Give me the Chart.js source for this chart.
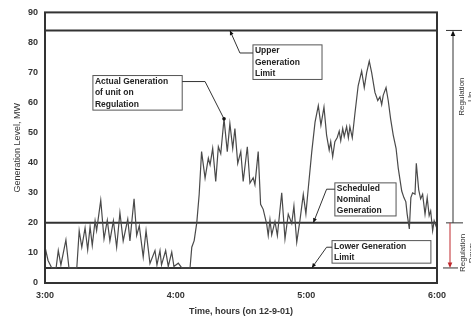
<!DOCTYPE html>
<html>
<head>
<meta charset="utf-8">
<script src="https://cdn.jsdelivr.net/npm/chart.js@4"></script>
<style>
  html, body { margin: 0; padding: 0; background: #fff; }
  #wrap { width: 471px; height: 318px; }
</style>
</head>
<body>
<div id="wrap"><canvas id="genChart" width="471" height="318"></canvas></div>
<script>
// minutes after 3:00
var minutes = [0, 1.4, 3.1, 5.1, 6.1, 7.3, 9.6, 11.0, 14.6, 15.7, 16.9, 18.4, 19.6, 20.7, 21.7, 23.0, 23.7,
  25.6, 27.1, 28.6, 29.8, 31.4, 32.9, 34.4, 35.9, 38.0, 39.0, 40.9, 42.1, 43.3, 45.1, 46.4, 48.2,
  50.5, 51.4, 52.8, 53.5, 55.4, 56.6, 58.2, 59.2, 61.2, 62.8, 66.6, 67.4, 68.5, 69.7, 70.8, 71.9,
  73.5, 75.0, 75.8, 77.0, 78.4, 79.6, 80.7, 82.2, 83.7, 84.9, 86.2, 87.2, 88.5, 89.9, 91.0, 92.9,
  94.1, 95.6, 96.4, 97.9, 99.0, 100.2, 101.8, 102.5, 103.3, 104.1, 105.6, 106.7, 108.7, 110.2,
  111.7, 113.3, 114.3, 115.6, 117.1, 118.6, 119.8, 120.9, 122.5, 124.0, 125.5, 126.7, 128.1, 129.3,
  130.5, 131.2, 132.1, 133.1, 134.2, 135.1, 135.8, 136.7, 137.4, 138.5, 139.3, 140.0, 141.1, 142.3,
  143.8, 145.4, 146.6, 147.7, 148.9, 150.0, 151.5, 152.8, 153.8, 154.6, 155.3, 156.6, 157.6, 158.7,
  159.9, 161.2, 162.2, 163.8, 164.8, 165.7, 166.3, 167.3, 168.0, 168.8, 169.9, 170.5, 171.6, 172.5,
  173.4, 174.5, 175.5, 176.4, 177.1, 178.0, 178.7, 179.5, 180];
var actualMW = [12, 7.5, 5, 5, 10.8, 6, 14.3, 5, 5, 17.4, 11.9, 18.3, 11, 18.7, 12.5, 20.7, 17.4,
  27.5, 14.7, 20.9, 14, 20.7, 11.9, 23.4, 14, 21.2, 14, 28, 15.8, 19, 8.6, 17.4, 6.5,
  10.8, 6, 10.8, 6, 10.8, 5.5, 10.3, 5.5, 6.6, 5, 5, 11.9, 14.1, 20.1, 29.5, 43.7,
  34.9, 41.5, 39.3, 44.8, 33.8, 45.3, 43, 54.6, 43.7, 53, 44.8, 51.4, 39.8, 43.7, 33.8, 45.3,
  33.2, 35, 32.7, 43.7, 26.2, 24.5, 19.6, 15.8, 21, 16, 20.5, 15.8, 30, 14.7,
  22.9, 19.8, 25.6, 13.6, 21, 29.5, 23, 31.6, 43.7, 53.5, 59, 52.5, 58.5, 49.2,
  44.2, 47, 42, 47, 48.4, 50.5, 47.3, 51.4, 48.7, 52, 48.3, 52, 48.3, 56.3,
  65.6, 70.5, 65, 70, 73.8, 70, 63.4, 60.7, 61.9, 59.3, 62.4, 65, 60.7, 54.6,
  49.2, 44.8, 38.2, 30.6, 28.4, 27, 22.9, 18, 28.4, 30, 29.5, 39.8, 31, 28,
  29.5, 22.9, 28.4, 22.4, 24, 17.4, 20.7, 19, 18];

var upperLimit = 84;
var scheduled = 20;
var lowerLimit = 5;
var xTicks = ['3:00', '4:00', '5:00', '6:00'];

function flat(v) { return [{ x: 0, y: v }, { x: 180, y: v }]; }

var series = minutes.map(function (m, i) { return { x: m, y: actualMW[i] }; });

var boldFont = '"Liberation Sans", Arial, sans-serif';

// callout boxes, positioned in data units (minutes, MW)
var callouts = [
  { lines: ['Actual Generation', 'of unit on', 'Regulation'], x0: 22, x1: 63, y0: 69, y1: 57.5,
    path: [[63, 67], [73.5, 67], [82.2, 54.6]], head: 'dot' },
  { lines: ['Upper', 'Generation', 'Limit'], x0: 95.5, x1: 127.2, y0: 79.2, y1: 67.7,
    path: [[95.5, 76.5], [89.5, 76.5], [84.9, 84]], head: 'arrow' },
  { lines: ['Scheduled', 'Nominal', 'Generation'], x0: 133.1, x1: 161.2, y0: 33.3, y1: 22.3,
    path: [[133.1, 31.2], [129.3, 31.2], [123.2, 20]], head: 'arrow' },
  { lines: ['Lower Generation', 'Limit'], x0: 131.8, x1: 177.2, y0: 14.1, y1: 6.6,
    path: [[131.8, 11.9], [129.3, 11.9], [122.5, 5]], head: 'arrow' }
];

function arrowHead(ctx, fx, fy, tx, ty, size) {
  var ang = Math.atan2(ty - fy, tx - fx);
  ctx.beginPath();
  ctx.moveTo(tx, ty);
  ctx.lineTo(tx - size * Math.cos(ang - 0.4), ty - size * Math.sin(ang - 0.4));
  ctx.lineTo(tx - size * Math.cos(ang + 0.4), ty - size * Math.sin(ang + 0.4));
  ctx.closePath();
  ctx.fill();
}

var overlay = {
  id: 'overlay',
  afterDatasetsDraw: function (chart) {
    var ctx = chart.ctx, a = chart.chartArea, x = chart.scales.x, y = chart.scales.y;
    ctx.save();
    // frame
    ctx.strokeStyle = '#333';
    ctx.lineWidth = 2;
    ctx.strokeRect(a.left, a.top, a.right - a.left, a.bottom - a.top);

    // callouts
    ctx.font = 'bold 8.5px ' + boldFont;
    ctx.textBaseline = 'middle';
    ctx.textAlign = 'left';
    callouts.forEach(function (c) {
      var bx0 = x.getPixelForValue(c.x0), bx1 = x.getPixelForValue(c.x1);
      var by0 = y.getPixelForValue(c.y0), by1 = y.getPixelForValue(c.y1);
      ctx.fillStyle = '#fff';
      ctx.fillRect(bx0, by0, bx1 - bx0, by1 - by0);
      ctx.strokeStyle = '#555';
      ctx.lineWidth = 1;
      ctx.strokeRect(bx0, by0, bx1 - bx0, by1 - by0);
      ctx.fillStyle = '#222';
      var lh = (by1 - by0) / c.lines.length;
      c.lines.forEach(function (t, i) {
        ctx.fillText(t, bx0 + 2, by0 + lh * (i + 0.5));
      });
      ctx.strokeStyle = '#333';
      ctx.beginPath();
      c.path.forEach(function (p, i) {
        var px = x.getPixelForValue(p[0]), py = y.getPixelForValue(p[1]);
        if (i === 0) ctx.moveTo(px, py); else ctx.lineTo(px, py);
      });
      ctx.stroke();
      var n = c.path.length;
      var ex = x.getPixelForValue(c.path[n - 1][0]), ey = y.getPixelForValue(c.path[n - 1][1]);
      var sx = x.getPixelForValue(c.path[n - 2][0]), sy = y.getPixelForValue(c.path[n - 2][1]);
      ctx.fillStyle = '#111';
      if (c.head === 'dot') {
        ctx.beginPath(); ctx.arc(ex, ey, 1.8, 0, Math.PI * 2); ctx.fill();
      } else {
        arrowHead(ctx, sx, sy, ex, ey, 5);
      }
    });

    // regulation range arrows on the right
    var rx = a.right + 16;
    var yU = y.getPixelForValue(upperLimit), yS = y.getPixelForValue(scheduled), yL = y.getPixelForValue(lowerLimit);
    ctx.strokeStyle = '#333';
    ctx.lineWidth = 1;
    [[yU, 9, 25], [yS, 9, 26], [yL, 6, 21]].forEach(function (b) {
      ctx.beginPath(); ctx.moveTo(a.right + b[1], b[0]); ctx.lineTo(a.right + b[2], b[0]); ctx.stroke();
    });
    ctx.beginPath(); ctx.moveTo(rx, yS); ctx.lineTo(rx, yU + 2); ctx.stroke();
    ctx.fillStyle = '#111';
    arrowHead(ctx, rx, yS, rx, yU, 6);
    ctx.strokeStyle = '#c0282d';
    ctx.fillStyle = '#c0282d';
    ctx.beginPath(); ctx.moveTo(a.right + 13, yS); ctx.lineTo(a.right + 13, yL - 2); ctx.stroke();
    arrowHead(ctx, a.right + 13, yS, a.right + 13, yL, 6);

    ctx.fillStyle = '#333';
    ctx.font = '8px ' + boldFont;
    ctx.textAlign = 'center';
    function vtext(t, px, py) {
      ctx.save(); ctx.translate(px, py); ctx.rotate(-Math.PI / 2); ctx.fillText(t, 0, 0); ctx.restore();
    }
    var midUp = y.getPixelForValue(62);
    vtext('Regulation', a.right + 25, midUp);
    vtext('Up', a.right + 34, midUp);
    var midDn = y.getPixelForValue(10);
    vtext('Regulation', a.right + 26, midDn);
    vtext('Down', a.right + 35, midDn);
    ctx.restore();
  }
};

var ctx = document.getElementById('genChart').getContext('2d');
var myChart = new Chart(ctx, {
  type: 'line',
  data: {
    datasets: [{
      label: 'Actual Generation',
      data: series,
      borderColor: '#4a4a4a',
      borderWidth: 1.2,
      pointRadius: 0,
      tension: 0
    }, {
      label: 'Upper Generation Limit',
      data: flat(upperLimit),
      borderColor: '#333',
      borderWidth: 2,
      pointRadius: 0
    }, {
      label: 'Scheduled Nominal Generation',
      data: flat(scheduled),
      borderColor: '#333',
      borderWidth: 2,
      pointRadius: 0
    }, {
      label: 'Lower Generation Limit',
      data: flat(lowerLimit),
      borderColor: '#333',
      borderWidth: 2,
      pointRadius: 0
    }]
  },
  options: {
    responsive: false,
    animation: false,
    layout: { padding: { left: 12, right: 34, top: 9, bottom: 1 } },
    plugins: { legend: { display: false }, tooltip: { enabled: false } },
    scales: {
      x: {
        type: 'linear',
        min: 0,
        max: 180,
        afterFit: function (s) { s.height = 34; },
        grid: { display: false, drawTicks: false },
        border: { display: false },
        ticks: {
          stepSize: 60,
          color: '#333',
          padding: 7,
          font: { family: boldFont, size: 9, weight: 'bold' },
          callback: function (v) { return xTicks[v / 60]; }
        },
        title: {
          display: true,
          text: 'Time, hours (on 12-9-01)',
          color: '#333',
          padding: 0,
          font: { family: boldFont, size: 9, weight: 'bold' }
        }
      },
      y: {
        min: 0,
        max: 90,
        afterFit: function (s) { s.width = 33; },
        grid: { display: false, drawTicks: false },
        border: { display: false },
        ticks: {
          stepSize: 10,
          color: '#333',
          padding: 7,
          font: { family: boldFont, size: 9, weight: 'bold' }
        },
        title: {
          display: true,
          text: 'Generation Level, MW',
          color: '#333',
          padding: 0,
          font: { family: boldFont, size: 9 }
        }
      }
    }
  },
  plugins: [overlay]
});
</script>
</body>
</html>
